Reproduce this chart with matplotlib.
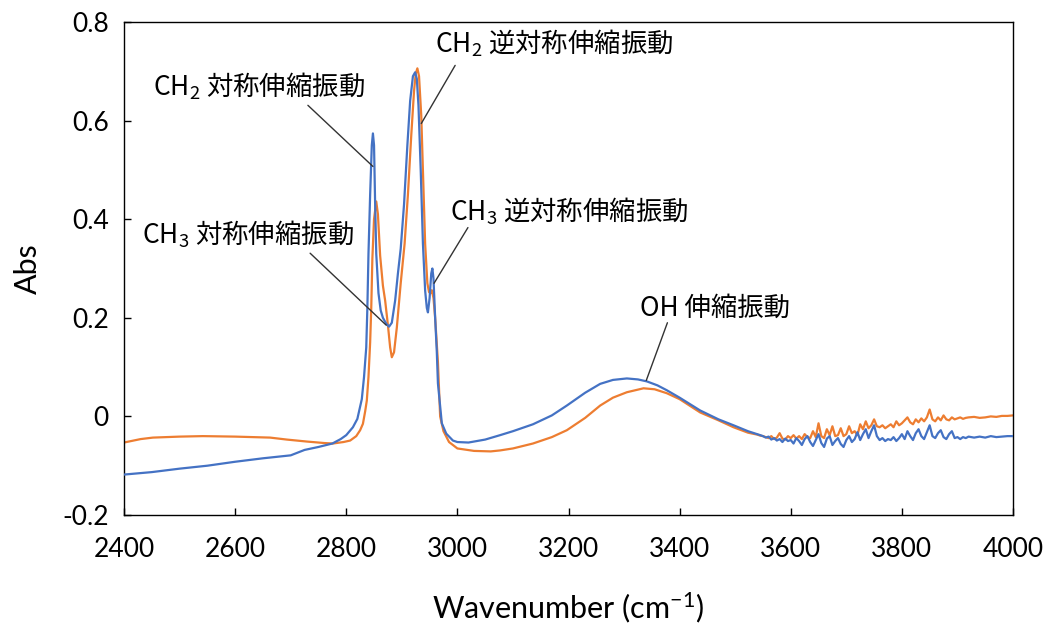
import matplotlib
matplotlib.use("Agg")
import matplotlib.pyplot as plt

plt.rcParams['font.family'] = ['Lato', 'Noto Sans CJK JP', 'DejaVu Sans']
plt.rcParams['mathtext.default'] = 'regular'
plt.rcParams['axes.unicode_minus'] = False

# ---------------- data ----------------
# smooth part (2400-3530 cm-1)
wn_blue_main = [2400, 2450, 2500, 2550, 2600, 2650, 2700, 2725, 2750, 2775, 2790, 2800,
                2812, 2820, 2825, 2828, 2832, 2836, 2838, 2840, 2843, 2846, 2848, 2850,
                2852, 2854, 2858, 2862, 2866, 2872, 2877, 2882, 2888, 2893, 2898, 2904,
                2910, 2915, 2920, 2924, 2927, 2930, 2934, 2938, 2942, 2945, 2947, 2950,
                2953, 2955, 2957, 2960, 2963, 2965, 2969, 2972, 2980, 2992, 3000, 3020,
                3050, 3077, 3100, 3136, 3170, 3197, 3230, 3257, 3280, 3305, 3325, 3341,
                3360, 3377, 3400, 3437, 3470, 3497, 3523]
abs_blue_main = [-0.118, -0.113, -0.106, -0.100, -0.092, -0.085, -0.079, -0.068, -0.062, -0.055, -0.046, -0.038,
                 -0.022, -0.005, 0.020, 0.035, 0.080, 0.140, 0.220, 0.330, 0.450, 0.550, 0.574, 0.550,
                 0.430, 0.330, 0.250, 0.215, 0.200, 0.188, 0.182, 0.190, 0.235, 0.290, 0.340, 0.430,
                 0.550, 0.640, 0.690, 0.698, 0.685, 0.630, 0.500, 0.350, 0.255, 0.220, 0.211, 0.240,
                 0.290, 0.300, 0.280, 0.200, 0.130, 0.067, 0.020, -0.014, -0.035, -0.049, -0.052, -0.053,
                 -0.047, -0.038, -0.030, -0.016, 0.002, 0.022, 0.048, 0.066, 0.074, 0.077, 0.075, 0.071,
                 0.063, 0.053, 0.038, 0.012, -0.006, -0.018, -0.030]

wn_orange_main = [2400, 2430, 2452, 2500, 2542, 2600, 2663, 2693, 2729, 2760, 2776, 2795,
                  2807, 2818, 2825, 2830, 2834, 2837, 2840, 2843, 2845, 2847, 2850, 2854,
                  2857, 2861, 2866, 2870, 2875, 2879, 2882, 2886, 2891, 2898, 2905, 2911,
                  2917, 2922, 2925, 2928, 2931, 2935, 2938, 2942, 2946, 2949, 2952, 2954,
                  2957, 2960, 2965, 2969, 2975, 2985, 3000, 3030, 3060, 3077, 3100, 3136,
                  3170, 3197, 3230, 3257, 3280, 3305, 3335, 3355, 3377, 3400, 3437, 3470,
                  3497, 3523]
abs_orange_main = [-0.053, -0.046, -0.043, -0.041, -0.040, -0.041, -0.043, -0.047, -0.051, -0.054, -0.055, -0.052,
                   -0.049, -0.040, -0.028, -0.015, 0.010, 0.032, 0.080, 0.150, 0.220, 0.320, 0.400, 0.436,
                   0.410, 0.326, 0.265, 0.235, 0.185, 0.140, 0.120, 0.130, 0.180, 0.270, 0.350, 0.450,
                   0.570, 0.660, 0.695, 0.706, 0.690, 0.610, 0.500, 0.350, 0.270, 0.252, 0.250, 0.256,
                   0.240, 0.200, 0.110, 0.000, -0.030, -0.052, -0.065, -0.070, -0.071, -0.069, -0.065, -0.055,
                   -0.042, -0.028, -0.003, 0.022, 0.038, 0.049, 0.057, 0.055, 0.047, 0.035, 0.008, -0.008,
                   -0.022, -0.033]

# noisy part (3540-4000 cm-1)
wn_noise = [3540, 3545, 3550, 3555, 3560, 3565, 3570, 3575, 3580, 3585, 3590, 3595,
            3600, 3605, 3610, 3615, 3620, 3625, 3630, 3635, 3640, 3645, 3650, 3655,
            3660, 3665, 3670, 3675, 3680, 3685, 3690, 3695, 3700, 3705, 3710, 3715,
            3720, 3725, 3730, 3735, 3740, 3745, 3750, 3755, 3760, 3765, 3770, 3775,
            3780, 3785, 3790, 3795, 3800, 3805, 3810, 3815, 3820, 3825, 3830, 3835,
            3840, 3845, 3850, 3855, 3860, 3865, 3870, 3875, 3880, 3885, 3890, 3895,
            3900, 3905, 3910, 3915, 3920, 3930, 3940, 3950, 3960, 3970, 3980, 3990, 4000]
abs_blue_noise = [-0.036, -0.038, -0.040, -0.043, -0.041, -0.047, -0.044, -0.049, -0.046, -0.052, -0.045, -0.050,
                  -0.048, -0.055, -0.044, -0.050, -0.058, -0.046, -0.040, -0.052, -0.060, -0.048, -0.036, -0.054,
                  -0.062, -0.045, -0.040, -0.058, -0.050, -0.044, -0.056, -0.062, -0.048, -0.040, -0.052, -0.046,
                  -0.032, -0.048, -0.036, -0.026, -0.044, -0.030, -0.018, -0.040, -0.048, -0.044, -0.050, -0.046,
                  -0.048, -0.042, -0.050, -0.044, -0.036, -0.046, -0.030, -0.040, -0.048, -0.034, -0.026, -0.040,
                  -0.046, -0.032, -0.018, -0.040, -0.044, -0.034, -0.028, -0.042, -0.046, -0.036, -0.030, -0.044,
                  -0.042, -0.046, -0.042, -0.044, -0.041, -0.043, -0.041, -0.043, -0.040, -0.042, -0.041, -0.040, -0.040]
abs_orange_noise = [-0.037, -0.039, -0.040, -0.042, -0.044, -0.040, -0.046, -0.043, -0.034, -0.045, -0.047, -0.040,
                    -0.044, -0.038, -0.045, -0.040, -0.046, -0.036, -0.042, -0.044, -0.030, -0.042, -0.014, -0.040,
                    -0.044, -0.026, -0.038, -0.020, -0.040, -0.038, -0.024, -0.040, -0.036, -0.020, -0.034, -0.030,
                    -0.038, -0.016, -0.026, -0.010, -0.024, -0.018, -0.006, -0.020, -0.022, -0.018, -0.024, -0.020,
                    -0.016, -0.022, -0.010, -0.018, -0.014, -0.008, -0.002, -0.012, -0.016, -0.006, -0.012, -0.004,
                    -0.010, -0.002, 0.014, -0.006, -0.010, -0.002, -0.008, 0.002, -0.006, -0.008, -0.002, -0.006,
                    -0.004, -0.002, -0.005, -0.003, -0.002, -0.001, -0.003, -0.002, 0.000, -0.001, 0.001, 0.001, 0.002]

x_ticks = [2400, 2600, 2800, 3000, 3200, 3400, 3600, 3800, 4000]
y_ticks = [-0.2, 0.0, 0.2, 0.4, 0.6, 0.8]
y_tick_labels = ["-0.2", "0", "0.2", "0.4", "0.6", "0.8"]

# annotations: label, text position (left, baseline), line start, line end
ann_labels = ["CH$_2$ 対称伸縮振動", "CH$_3$ 対称伸縮振動", "CH$_2$ 逆対称伸縮振動",
              "CH$_3$ 逆対称伸縮振動", "OH 伸縮振動"]
ann_text_pos = [(2452, 0.651), (2432, 0.351), (2960, 0.738), (2987, 0.397), (3329, 0.205)]
ann_line_start = [(2731, 0.631), (2735, 0.331), (2996, 0.712), (3019, 0.383), (3378, 0.190)]
ann_line_end = [(2848, 0.507), (2872, 0.185), (2935, 0.594), (2958, 0.270), (3340, 0.073)]

# ---------------- figure ----------------
fig = plt.figure(figsize=(10.48, 6.24), dpi=100)
ax = fig.add_axes([124 / 1048, 1 - 515 / 624, 889 / 1048, 493 / 624])

ax.plot(wn_blue_main + wn_noise, abs_blue_main + abs_blue_noise,
        color='#4472C4', lw=1.6, zorder=3)
ax.plot(wn_orange_main + wn_noise, abs_orange_main + abs_orange_noise,
        color='#ED7D31', lw=1.6, zorder=2)

ax.set_xlim(2400, 4000)
ax.set_ylim(-0.2, 0.8)
ax.set_xticks(x_ticks)
ax.set_xticklabels([str(t) for t in x_ticks])
ax.set_yticks(y_ticks)
ax.set_yticklabels(y_tick_labels)
ax.tick_params(axis='both', direction='in', length=5, width=1, labelsize=19)
ax.tick_params(axis='x', pad=16)
ax.tick_params(axis='y', pad=11)

for s in ax.spines.values():
    s.set_linewidth(1.0)
    s.set_color('black')

ax.set_ylabel("Abs", fontsize=22)
ax.yaxis.set_label_coords(-0.092, 0.5)
ax.set_xlabel("Wavenumber (cm$^{-1}$)", fontsize=22)
ax.xaxis.set_label_coords(0.5, -0.152)

for lab, tp, ls, le in zip(ann_labels, ann_text_pos, ann_line_start, ann_line_end):
    ax.annotate('', xy=le, xytext=ls,
                arrowprops=dict(arrowstyle='-', color='#333333', lw=1.0,
                                shrinkA=0, shrinkB=0), zorder=4)
    ax.text(tp[0], tp[1], lab, fontsize=19, family='Noto Sans CJK JP',
            ha='left', va='baseline', zorder=5)

fig.savefig("out.png", dpi=100)
